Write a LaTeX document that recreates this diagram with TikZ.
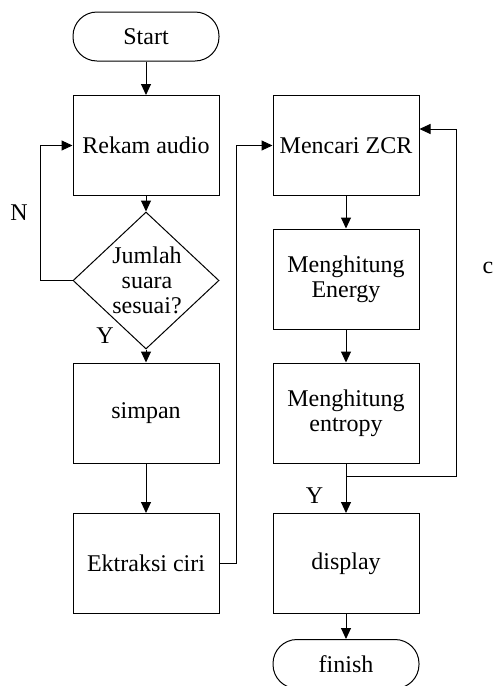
\documentclass[tikz,border=0pt]{standalone}
\usepackage{fontspec}
\setmainfont{Liberation Serif}
\usetikzlibrary{arrows.meta,shapes.geometric}
\begin{document}
\begin{tikzpicture}[x=1pt,y=-1pt,
  every node/.style={font=\fontsize{24}{25}\selectfont},
  box/.style={draw,line width=1pt,minimum width=146pt,minimum height=100pt,inner sep=0pt,align=center},
  term/.style={draw,line width=1pt,rounded corners=24pt,minimum width=146pt,minimum height=49pt,inner sep=0pt},
  decision/.style={draw,line width=1pt,diamond,minimum width=146pt,minimum height=137pt,inner sep=0pt},
  flow/.style={line width=1pt,-{Triangle[length=11pt,width=10pt]}},
  lbl/.style={inner sep=0pt}]
\useasboundingbox (0,0) rectangle (493,686);

% left column
\node[term] (start) at (146,36.5) {Start};
\node[box] (rekam) at (146,145.5) {Rekam audio};
\node[decision] (cek) at (146,280.5) {};
\node[align=center,inner sep=0pt] (cektext) at (147,280) {Jumlah\\suara\\sesuai?};
\node[box] (simpan) at (146,413) {simpan};
\node[box] (ciri) at (146,563.5) {Ektraksi ciri};

% right column
\node[box] (zcr) at (346,145.5) {Mencari ZCR};
\node[box] (energy) at (346,279) {Menghitung\\Energy};
\node[box] (entropy) at (346,413) {Menghitung\\entropy};
\node[box] (display) at (346,563.5) {display};
\node[term] (finish) at (346,664) {finish};

% connectors
\draw[flow] (start) -- (rekam);
\draw[flow] (rekam) -- (cek);
\draw[flow] (cek) -- (simpan);
\draw[flow] (simpan) -- (ciri);
\draw[flow] (cek.west) -- ++(-32,0) |- (rekam.west);
\draw[flow] (ciri.east) -- ++(17,0) |- (zcr.west);
\draw[flow] (zcr) -- (energy);
\draw[flow] (energy) -- (entropy);
\draw[flow] (entropy) -- (display);
\coordinate (join) at (346,476);
\draw[flow] (join) -- (456,476) |- ([yshift=-34pt]zcr.north east);
\draw[flow] (display) -- (finish);

% labels
\node[lbl] (n) at (19,212.5) {N};
\node[lbl] (y1) at (105,336) {Y};
\node[lbl] (y2) at (314.5,496) {Y};
\node[lbl] (c) at (488,267.5) {c};
\end{tikzpicture}
\end{document}
